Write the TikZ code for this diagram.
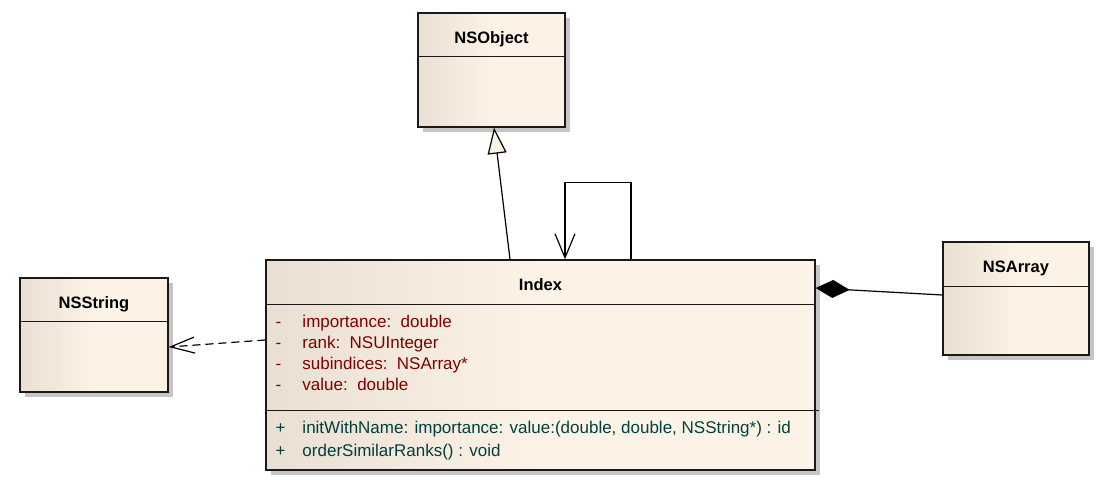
\documentclass[tikz,border=0pt]{standalone}
\usepackage{fontspec}
\setmainfont{Liberation Sans}
\usetikzlibrary{arrows.meta,shadows}

\definecolor{beigedark}{RGB}{233,223,210}
\definecolor{beigelight}{RGB}{252,242,229}
\definecolor{attrred}{RGB}{128,0,0}
\definecolor{opteal}{RGB}{0,64,64}

\tikzset{
    umlclass/.style={rectangle, draw=black!90, line width=1.4pt, inner sep=0pt,
        left color=beigedark, right color=beigelight, middle color=beigelight,
        drop shadow={shadow xshift=5pt, shadow yshift=-5pt, fill=black!25, opacity=.9}},
    classname/.style={font=\fontsize{16.5}{19}\selectfont\bfseries, anchor=base, inner sep=0pt},
    members/.style={font=\fontsize{17}{21}\selectfont, anchor=base west, inner sep=0pt},
    divider/.style={draw=black!90, line width=1.4pt},
    generalize/.style={line width=1.2pt, -{Triangle[length=26pt,width=19pt,fill=beigelight]}},
    selfref/.style={line width=1.2pt, -{Straight Barb[length=24pt,width=20pt]}},
    depend/.style={line width=1.2pt, dash pattern=on 8pt off 5pt, -{Straight Barb[length=24pt,width=16pt]}},
    compose/.style={line width=1.2pt, {Diamond[length=34pt,width=18pt]}-}
}

\begin{document}
\begin{tikzpicture}[x=1pt,y=-1pt]
    \useasboundingbox (0,0) rectangle (1113,487);

    \node[umlclass, minimum width=147pt, minimum height=114pt] (nsobject) at (491.5,70) {};
    \node[umlclass, minimum width=549pt, minimum height=210pt] (index) at (540.5,365) {};
    \node[umlclass, minimum width=148pt, minimum height=114pt] (nsstring) at (94,335) {};
    \node[umlclass, minimum width=146pt, minimum height=113pt] (nsarray) at (1016,298.5) {};

    \node[classname] (nsobject-name) at ([yshift=-31pt]nsobject.north) {NSObject};
    \node[classname] (index-name) at ([yshift=-31pt]index.north) {Index};
    \node[classname] (nsstring-name) at ([yshift=-31pt]nsstring.north) {NSString};
    \node[classname] (nsarray-name) at ([yshift=-31pt]nsarray.north) {NSArray};

    \draw[divider] ([yshift=-44pt]nsobject.north west) -- ([yshift=-44pt]nsobject.north east);
    \draw[divider] ([yshift=-45pt]index.north west) -- ([yshift=-45pt]index.north east);
    \draw[divider] ([yshift=-151pt]index.north west) -- ([xshift=3pt,yshift=-151pt]index.north east);
    \draw[divider] ([yshift=-44pt]nsstring.north west) -- ([yshift=-44pt]nsstring.north east);
    \draw[divider] ([yshift=-45pt]nsarray.north west) -- ([yshift=-45pt]nsarray.north east);

    \node[members, text=attrred] (index-attrs) at ([xshift=10pt,yshift=-68pt]index.north west)
    {\begin{tabular}[t]{@{}p{27pt}@{}l@{}}
        - & importance:~~double\\
        - & rank:~~NSUInteger\\
        - & subindices:~~NSArray*\\
        - & value:~~double
    \end{tabular}};
    \node[members, text=opteal] (index-ops) at ([xshift=10pt,yshift=-174pt]index.north west)
    {\begin{tabular}[t]{@{}p{27pt}@{}l@{}}
        + & initWithName: importance: value:(double, double, NSString*) : id\\[2pt]
        + & orderSimilarRanks() : void
    \end{tabular}};

    \draw[generalize] ([xshift=-30.5pt]index.north) -- ([xshift=2.5pt]nsobject.south);
    \draw[selfref] ([xshift=90.5pt]index.north) |- ([xshift=24.5pt,yshift=77pt]index.north)
        -- ([xshift=24.5pt]index.north);
    \draw[depend] ([yshift=25pt]index.west) -- ([yshift=-12pt]nsstring.east);
    \draw[compose] ([yshift=77pt]index.east) -- ([yshift=3.5pt]nsarray.west);
\end{tikzpicture}
\end{document}
